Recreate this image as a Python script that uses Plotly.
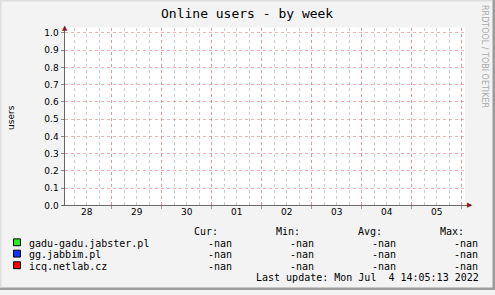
import plotly.graph_objects as go

W, H = 495, 295

# ---- data ----
title_text = "Online users - by week"
y_label = "users"
series_names = ["gadu-gadu.jabster.pl", "gg.jabbim.pl", "icq.netlab.cz"]
series_colors = ["#22ee22", "#1133ff", "#ff0000"]
times = ["2022-06-28 12:00", "2022-06-30 12:00", "2022-07-02 12:00", "2022-07-04 12:00"]
values_gadu = [None, None, None, None]
values_gg = [None, None, None, None]
values_icq = [None, None, None, None]
day_ticks = ["2022-06-29", "2022-06-30", "2022-07-01", "2022-07-02",
             "2022-07-03", "2022-07-04", "2022-07-05", "2022-07-06"]
day_label_pos = ["2022-06-28 12:00", "2022-06-29 12:00", "2022-06-30 12:00", "2022-07-01 12:00",
                 "2022-07-02 12:00", "2022-07-03 12:00", "2022-07-04 12:00", "2022-07-05 12:00"]
day_labels = ["28", "29", "30", "01", "02", "03", "04", "05"]
y_ticks = [0.0, 0.1, 0.2, 0.3, 0.4, 0.5, 0.6, 0.7, 0.8, 0.9, 1.0]
y_tick_labels = ["0.0", "0.1", "0.2", "0.3", "0.4", "0.5", "0.6", "0.7", "0.8", "0.9", "1.0"]
stat_headers = ["Cur:", "Min:", "Avg:", "Max:"]
stat_cur = ["-nan", "-nan", "-nan"]
stat_min = ["-nan", "-nan", "-nan"]
stat_avg = ["-nan", "-nan", "-nan"]
stat_max = ["-nan", "-nan", "-nan"]
last_update = "Last update: Mon Jul  4 14:05:13 2022"
watermark = "RRDTOOL / TOBI OETIKER"

# ---- layout helpers ----
def px(x):
    return x / W

def py(y):
    return 1 - y / H

x_range = ["2022-06-28 01:20", "2022-07-06 01:36"]
LEFT, RIGHT, TOP, BOTTOM = 64.5, 465, 28, 209
MONO = "DejaVu Sans Mono"
SANS = "DejaVu Sans"
GRID_RED = "rgba(240,110,110,0.55)"
GRID_GRAY = "rgba(170,170,170,0.6)"

fig = go.Figure()
for name, color, vals in zip(series_names, series_colors, [values_gadu, values_gg, values_icq]):
    fig.add_trace(go.Scatter(x=times, y=vals, mode="lines", name=name,
                             line=dict(color=color, width=1), showlegend=False))
# traces to activate overlay axes
fig.add_trace(go.Scatter(x=times, y=values_gadu, xaxis="x2", yaxis="y",
                         mode="lines", showlegend=False, hoverinfo="skip"))
fig.add_trace(go.Scatter(x=times, y=values_gadu, xaxis="x3", yaxis="y",
                         mode="lines", showlegend=False, hoverinfo="skip"))

fig.update_layout(
    width=W, height=H,
    margin=dict(l=0, r=0, t=0, b=0),
    paper_bgcolor="#f3f3f3",
    plot_bgcolor="#ffffff",
    showlegend=False,
    # 6-hour gray grid
    xaxis=dict(
        domain=[px(LEFT), px(RIGHT)],
        type="date", range=x_range,
        tickmode="linear", tick0="2022-06-28 00:00", dtick=6 * 3600 * 1000,
        showticklabels=False, ticks="",
        showgrid=True, gridcolor=GRID_GRAY, griddash="dot", gridwidth=1,
        showline=False, zeroline=False, fixedrange=True,
    ),
    # labels at noon
    xaxis2=dict(
        overlaying="x", anchor="y", side="bottom",
        type="date", range=x_range,
        tickmode="array", tickvals=day_label_pos, ticktext=day_labels,
        ticks="", showgrid=False, showline=False, zeroline=False,
        tickfont=dict(family=SANS, size=9, color="#000000"),
    ),
    # midnight red grid + ticks
    xaxis3=dict(
        overlaying="x", anchor="y", side="bottom",
        type="date", range=x_range,
        tickmode="array", tickvals=day_ticks, showticklabels=False,
        ticks="outside", ticklen=3, tickcolor="#999999",
        showgrid=True, gridcolor=GRID_RED, griddash="dot", gridwidth=1,
        showline=False, zeroline=False,
    ),
    yaxis=dict(
        domain=[py(BOTTOM), py(TOP)],
        range=[0, (BOTTOM - TOP) / (BOTTOM - 33.5)],
        tickmode="array", tickvals=y_ticks, ticktext=y_tick_labels,
        ticks="outside", ticklen=3, tickcolor="#888888",
        tickfont=dict(family=SANS, size=9, color="#000000"),
        showgrid=True, gridcolor=GRID_RED, griddash="dot", gridwidth=1,
        showline=False, zeroline=False, fixedrange=True,
    ),
)

def note(x, y, text, font, xanchor="center", **kw):
    return dict(x=px(x), y=py(y), xref="paper", yref="paper", text=text,
                xanchor=xanchor, yanchor="middle", showarrow=False, font=font, **kw)

ann = []
ann.append(note(247, 14, title_text, dict(family=MONO, size=13, color="#000000")))
ann.append(note(11, 120, y_label, dict(family=SANS, size=9, color="#000000"), textangle=-90))
ann.append(note(485, 57, watermark, dict(family=SANS, size=8, color="#aaaaaa"), textangle=90))
# axis arrows
ann.append(note(64.5, 28.5, "▲", dict(family=SANS, size=7, color="#8b1a1a")))
ann.append(note(469.5, 209, "▶", dict(family=SANS, size=7, color="#8b1a1a")))

# legend table
header_right = [220, 302, 384, 466]
value_right = [234, 316, 398, 480]
row_y = [247.5, 259, 270.8]
LFONT = dict(family=MONO, size=10, color="#000000")
for h, xr in zip(stat_headers, header_right):
    ann.append(note(xr, 235, h, LFONT, xanchor="right"))
shapes = []
for i, name in enumerate(series_names):
    yc = row_y[i]
    shapes.append(dict(type="rect", xref="paper", yref="paper",
                       x0=px(13.5), x1=px(20.5), y0=py(yc + 2.5), y1=py(yc - 4.5),
                       fillcolor=series_colors[i], line=dict(color="#000000", width=1)))
    ann.append(note(26.5, yc, name, LFONT, xanchor="left"))
    for vals, xr in zip([stat_cur, stat_min, stat_avg, stat_max], value_right):
        ann.append(note(xr, yc, vals[i], LFONT, xanchor="right"))
ann.append(note(481, 282.5, last_update, LFONT, xanchor="right"))

# axis lines (extended to arrows)
shapes.append(dict(type="line", xref="paper", yref="paper", x0=px(64.5), x1=px(64.5),
                   y0=py(BOTTOM), y1=py(27), line=dict(color="#666666", width=1)))
shapes.append(dict(type="line", xref="paper", yref="paper", x0=px(62), x1=px(468),
                   y0=py(209), y1=py(209), line=dict(color="#666666", width=1)))
# frame shading
shapes.append(dict(type="rect", xref="paper", yref="paper", x0=0, x1=1, y0=py(292.5), y1=0,
                   fillcolor="#9c9c9c", line=dict(width=0)))
shapes.append(dict(type="rect", xref="paper", yref="paper", x0=px(492.5), x1=1, y0=0, y1=1,
                   fillcolor="#9c9c9c", line=dict(width=0)))
shapes.append(dict(type="rect", xref="paper", yref="paper", x0=0, x1=px(1.5), y0=py(292.5), y1=1,
                   fillcolor="#dedede", line=dict(width=0)))
shapes.append(dict(type="rect", xref="paper", yref="paper", x0=0, x1=px(492.5), y0=py(1.5), y1=1,
                   fillcolor="#dedede", line=dict(width=0)))

fig.update_layout(annotations=ann, shapes=shapes)
fig.write_html("out.html")
